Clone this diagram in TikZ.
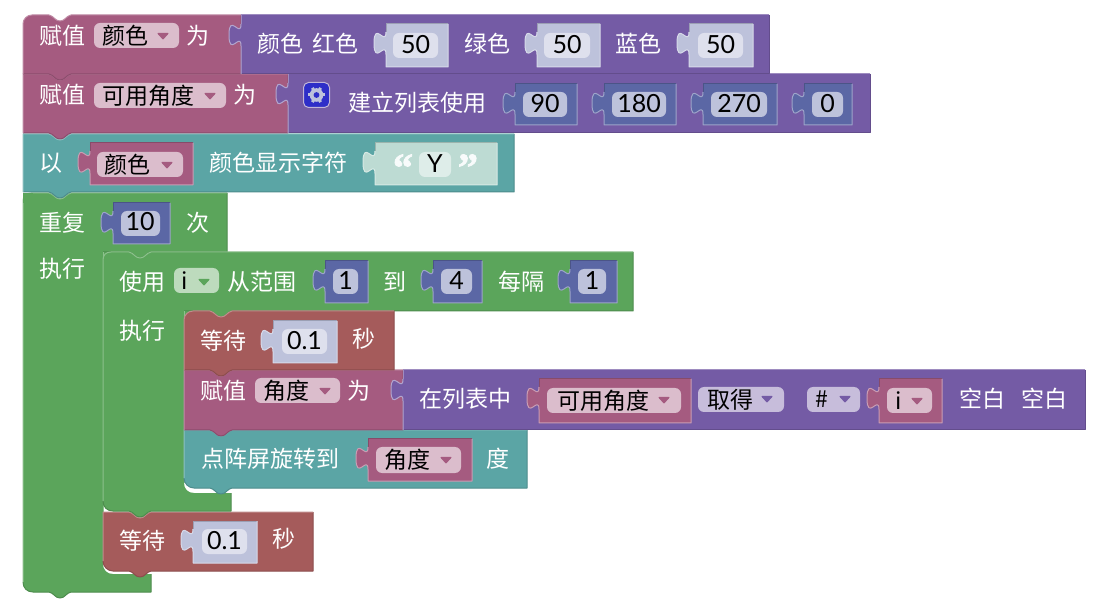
\documentclass[tikz,border=0pt]{standalone}
\usepackage{fontspec}
\setmainfont{Liberation Sans}
\newfontfamily\cjk{Noto Sans CJK SC}
\newfontfamily\numf{Lato}
\newfontfamily\qfont{Liberation Serif Bold}[FakeBold=2]
\definecolor{cMaroon}{HTML}{A55B80}
\definecolor{cPurple}{HTML}{745BA5}
\definecolor{cTeal}{HTML}{5BA5A5}
\definecolor{cGreen}{HTML}{5BA55B}
\definecolor{cRed}{HTML}{A55B5B}
\definecolor{cBlue}{HTML}{5B67A5}
\definecolor{cGear}{HTML}{2E2EC8}
\definecolor{fMaroon}{HTML}{DBBDCC}
\definecolor{fPurple}{HTML}{C7BDDB}
\definecolor{fGreen}{HTML}{BDDBBD}
\definecolor{fBlue}{HTML}{BDC2DB}
\definecolor{sBlue}{HTML}{BDC2DB}
\definecolor{sBlueF}{HTML}{DEE0ED}
\definecolor{sTeal}{HTML}{BDDBD3}
\definecolor{sTealF}{HTML}{DEEDE9}
\newcount\txc
\tikzset{
  lbl/.style={anchor=base,inner sep=0pt,outer sep=0pt,font=\fontsize{23}{23}\selectfont\cjk,text=white},
  fldtxt/.style={lbl,text=black},
  numtxt/.style={anchor=base,inner sep=0pt,outer sep=0pt,font=\fontsize{25}{25}\selectfont\numf,text=black},
  quotetxt/.style={anchor=base,inner sep=0pt,outer sep=0pt,text=white!90!sTeal,font=\fontsize{40}{40}\selectfont\qfont},
  edgeline/.style={line width=1pt,line join=round}
}
% text helpers: x, y-centre, text
\newcommand\wtx[3]{\global\advance\txc by 1 \node[lbl] (t\the\txc) at (#1,#2+9.5) {#3};}
\newcommand\btx[3]{\global\advance\txc by 1 \node[fldtxt] (t\the\txc) at (#1,#2+9.5) {#3};}
\newcommand\ntx[3]{\global\advance\txc by 1 \node[numtxt] (t\the\txc) at (#1,#2+8) {#3};}
% field: x1 y1 x2 y2 colour
\newcommand\fld[5]{\fill[#5,rounded corners=6pt] (#1,#2) rectangle (#3,#4);}
% dropdown arrow: x y colour
\newcommand\drp[3]{\fill[#3,line join=round,draw=#3,line width=1pt] (#1-5,#2-2.5) -- (#1+5,#2-2.5) -- (#1,#2+3) -- cycle;}
% statement block: x1 y1 x2 y2 colour topleft-radius bottomleft-radius
\newcommand\stmt[7]{%
 \fill[#5] (#1,#2+#6) .. controls (#1,#2+#6*.45) and (#1+#6*.45,#2) .. (#1+#6,#2)
   -- (#1+26,#2) .. controls (#1+31,#2+1) and (#1+32,#2+6) .. (#1+37,#2+6) .. controls (#1+42,#2+6) and (#1+43,#2+1) .. (#1+48,#2)
   -- (#3,#2) -- (#3,#4) -- (#1+48,#4) .. controls (#1+43,#4+1) and (#1+42,#4+6) .. (#1+37,#4+6) .. controls (#1+32,#4+6) and (#1+31,#4+1) .. (#1+26,#4)
   -- (#1+#7,#4) .. controls (#1+#7*.45,#4) and (#1,#4-#7*.45) .. (#1,#4-#7) -- cycle;
 \draw[edgeline,#5!85!black] (#3,#2) -- (#3,#4) -- (#1+48,#4) .. controls (#1+43,#4+1) and (#1+42,#4+6) .. (#1+37,#4+6) .. controls (#1+32,#4+6) and (#1+31,#4+1) .. (#1+26,#4)
   -- (#1+#7,#4) .. controls (#1+#7*.45,#4) and (#1,#4-#7*.45) .. (#1,#4-#7);
 \draw[edgeline,#5!70!white] (#1,#4-#7) -- (#1,#2+#6) .. controls (#1,#2+#6*.45) and (#1+#6*.45,#2) .. (#1+#6,#2)
   -- (#1+26,#2) .. controls (#1+31,#2+1) and (#1+32,#2+6) .. (#1+37,#2+6) .. controls (#1+42,#2+6) and (#1+43,#2+1) .. (#1+48,#2) -- (#3,#2);
}
% C block: x1 y1 xR yh armx barTop xbar barBot
\newcommand\cblk[9]{%
 \fill[#9] (#1,#2+8) .. controls (#1,#2+3) and (#1+3,#2) .. (#1+8,#2)
   -- (#1+26,#2) .. controls (#1+31,#2+1) and (#1+32,#2+6) .. (#1+37,#2+6) .. controls (#1+42,#2+6) and (#1+43,#2+1) .. (#1+48,#2)
   -- (#3,#2) -- (#3,#4) -- (#5+48,#4) .. controls (#5+43,#4+1) and (#5+42,#4+6) .. (#5+37,#4+6) .. controls (#5+32,#4+6) and (#5+31,#4+1) .. (#5+26,#4)
   -- (#5+12,#4) -- (#5+12,#4+1) -- (#5+1,#4+12) -- (#5,#4+12) -- (#5,#6-10) .. controls (#5,#6-4) and (#5+4,#6) .. (#5+10,#6)
   -- (#7,#6) -- (#7,#8) -- (#1+48,#8) .. controls (#1+43,#8+1) and (#1+42,#8+6) .. (#1+37,#8+6) .. controls (#1+32,#8+6) and (#1+31,#8+1) .. (#1+26,#8)
   -- (#1+10,#8) .. controls (#1+4,#8) and (#1,#8-4) .. (#1,#8-10) -- cycle;
 \draw[edgeline,#9!85!black] (#3,#2) -- (#3,#4) -- (#5+48,#4) .. controls (#5+43,#4+1) and (#5+42,#4+6) .. (#5+37,#4+6) .. controls (#5+32,#4+6) and (#5+31,#4+1) .. (#5+26,#4) -- (#5,#4);
 \draw[edgeline,#9!85!black] (#7,#6) -- (#7,#8) -- (#1+48,#8) .. controls (#1+43,#8+1) and (#1+42,#8+6) .. (#1+37,#8+6) .. controls (#1+32,#8+6) and (#1+31,#8+1) .. (#1+26,#8)
   -- (#1+10,#8) .. controls (#1+4,#8) and (#1,#8-4) .. (#1,#8-10);
 \draw[edgeline,#9!70!white] (#1,#8-10) -- (#1,#2+8) .. controls (#1,#2+3) and (#1+3,#2) .. (#1+8,#2)
   -- (#1+26,#2) .. controls (#1+31,#2+1) and (#1+32,#2+6) .. (#1+37,#2+6) .. controls (#1+42,#2+6) and (#1+43,#2+1) .. (#1+48,#2) -- (#3,#2);
 \draw[edgeline,#9!70!white] (#5,#4) -- (#5,#6-10);
}
% value block with puzzle tab: x1 y1 x2 y2 colour
\newcommand\valb[5]{%
 \fill[#5] (#1,#2) -- (#3,#2) -- (#3,#4) -- (#1,#4) -- (#1,#2+30.5)
   .. controls (#1,#2+15.5) and (#1-12,#2+42.5) .. (#1-12,#2+19.25)
   .. controls (#1-12,#2-4) and (#1,#2+23) .. (#1,#2+8) -- cycle;
 \draw[edgeline,#5!82!black] (#1,#2+8) -- (#1,#2) -- (#3,#2);
 \draw[edgeline,#5!60!white] (#3,#2) -- (#3,#4) -- (#1,#4) -- (#1,#2+30.5)
   .. controls (#1,#2+15.5) and (#1-12,#2+42.5) .. (#1-12,#2+19.25)
   .. controls (#1-12,#2-4) and (#1,#2+23) .. (#1,#2+8);
}
% attached output block: x1 y1 x2 y2 colour
\newcommand\outb[5]{%
 \fill[#5] (#1,#2) -- (#3,#2) -- (#3,#4) -- (#1,#4) -- (#1,#2+31)
   .. controls (#1,#2+16) and (#1-12,#2+43) .. (#1-12,#2+20)
   .. controls (#1-12,#2-3) and (#1,#2+24) .. (#1,#2+9) -- cycle;
 \draw[edgeline,#5!85!black] (#3,#2) -- (#3,#4) -- (#1,#4);
 \draw[edgeline,#5!70!white] (#1,#2+9) -- (#1,#2) -- (#3,#2);
 \draw[edgeline,#5!55!white] (#1,#4) -- (#1,#2+31)
   .. controls (#1,#2+16) and (#1-12,#2+43) .. (#1-12,#2+20)
   .. controls (#1-12,#2-3) and (#1,#2+24) .. (#1,#2+9);
}
\begin{document}
\begin{tikzpicture}[x=1pt,y=-1pt]
\useasboundingbox (0,0) rectangle (1096,612);
\fill[white] (0,0) rectangle (1096,612);

% ===== outer repeat =====
\cblk{23}{193}{227}{252}{103}{574}{151}{592}{cGreen}
\fill[cGreen] (23,193) rectangle (33,203);
\wtx{62}{222}{重复}
\valb{113}{203}{170}{244}{cBlue}
\fld{121}{211}{160}{236}{fBlue}
\ntx{140}{223}{10}
\wtx{198}{222}{次}
\wtx{62}{268}{执行}

% lower wait
\stmt{103}{512}{313}{571}{cRed}{0}{10}
\wtx{142}{540}{等待}
\valb{193}{521}{257}{563}{sBlue}
\fld{202}{529}{247}{554}{sBlueF}
\ntx{224.5}{541.5}{0.1}
\wtx{284}{538}{秒}

% ===== inner for =====
\cblk{103}{252}{633}{311}{184}{493}{231}{511}{cGreen}
\wtx{142}{281}{使用}
\fld{174}{268}{219}{293}{fGreen}
\btx{185}{280}{i}
\drp{204}{282}{cGreen}
\wtx{262}{281}{从范围}
\valb{325}{261}{368}{303}{cBlue}
\fld{333}{269}{358}{294}{fBlue}
\ntx{345.5}{281.5}{1}
\wtx{395}{281}{到}
\valb{433}{261}{482}{303}{cBlue}
\fld{441}{269}{472}{294}{fBlue}
\ntx{456.5}{281.5}{4}
\wtx{521}{281}{每隔}
\valb{570}{261}{617}{303}{cBlue}
\fld{578}{269}{606}{294}{fBlue}
\ntx{592}{281.5}{1}
\wtx{142}{330}{执行}

% teal rotate
\stmt{184}{430}{527}{488}{cTeal}{0}{10}
\wtx{270}{458}{点阵屏旋转到}
\valb{368}{439}{472}{481}{cMaroon}
\fld{376}{447}{461}{473}{fMaroon}
\btx{407}{459}{角度}
\drp{446}{460}{cMaroon}
\wtx{498}{458}{度}

% assign angle
\stmt{184}{370}{403}{430}{cMaroon}{0}{0}
\wtx{223}{390}{赋值}
\fld{255}{378}{340}{403}{fMaroon}
\btx{286}{390}{角度}
\drp{325}{391}{cMaroon}
\wtx{359}{390}{为}
\outb{403}{370}{1085}{430}{cPurple}
\wtx{465}{398}{在列表中}
\valb{539}{379}{691}{423}{cMaroon}
\fld{547}{388}{681}{413}{fMaroon}
\btx{603}{400}{可用角度}
\drp{664}{400}{cMaroon}
\fld{698}{387}{784}{412}{fPurple}
\btx{730}{399}{取得}
\drp{767}{399}{cPurple}
\fld{807}{387}{860}{412}{fPurple}
\btx{822}{398}{\#}
\drp{845}{399}{cPurple}
\valb{879}{379}{942}{423}{cMaroon}
\fld{887}{388}{932}{413}{fMaroon}
\btx{899}{400}{i}
\drp{917}{401}{cMaroon}
\wtx{982}{398}{空白}
\wtx{1044}{398}{空白}

% inner wait
\stmt{184}{311}{394}{370}{cRed}{9}{0}
\wtx{223}{340}{等待}
\valb{273}{321}{337}{363}{sBlue}
\fld{282}{329}{327}{354}{sBlueF}
\ntx{304.5}{341.5}{0.1}
\wtx{364}{338}{秒}

% ===== row 3 =====
\stmt{23}{134}{514}{192}{cTeal}{0}{0}
\wtx{51}{162}{以}
\valb{90}{143}{193}{185}{cMaroon}
\fld{97}{152}{183}{177}{fMaroon}
\btx{127}{164}{颜色}
\drp{167}{165}{cMaroon}
\wtx{278}{162}{颜色显示字符}
\valb{375}{143}{497}{185}{sTeal}
\fld{419}{152}{451}{177}{sTealF}
\ntx{435}{164.5}{Y}
\global\advance\txc by 1
\node[quotetxt] (t\the\txc) at (403,181) {“};
\global\advance\txc by 1
\node[quotetxt] (t\the\txc) at (468,181) {”};

% ===== row 2 =====
\stmt{23}{74}{288}{133}{cMaroon}{0}{0}
\wtx{62}{94}{赋值}
\fld{94}{83}{226}{108}{fMaroon}
\btx{148}{95}{可用角度}
\drp{210}{96}{cMaroon}
\wtx{245}{94}{为}
\outb{288}{74}{870}{133}{cPurple}
% gear icon
\fill[cGear,draw=cPurple!45!white,line width=1pt,rounded corners=5pt] (303.5,82.5) rectangle (329.5,107.5);
\foreach \a in {0,60,...,300} {\draw[line width=3pt,color=fBlue] (316.5,95) -- ++(\a:8.2);}
\fill[fBlue] (316.5,95) circle (6.8pt);
\fill[cGear] (316.5,95) circle (2.9pt);
\wtx{417}{102}{建立列表使用}
\valb{515}{84}{577}{125}{cBlue}
\fld{523}{92}{567}{117}{fBlue}
\ntx{545}{104.5}{90}
\valb{604}{84}{676}{125}{cBlue}
\fld{612}{92}{666}{117}{fBlue}
\ntx{639}{104.5}{180}
\valb{703}{84}{777}{125}{cBlue}
\fld{711}{92}{767}{117}{fBlue}
\ntx{739}{104.5}{270}
\valb{804}{84}{852}{125}{cBlue}
\fld{812}{92}{843}{117}{fBlue}
\ntx{827.5}{104.5}{0}

% ===== row 1 =====
\stmt{23}{15}{241}{74}{cMaroon}{9}{0}
\wtx{62}{35}{赋值}
\fld{94}{23}{179}{48}{fMaroon}
\btx{125}{35}{颜色}
\drp{163}{36}{cMaroon}
\wtx{198}{35}{为}
\outb{241}{15}{769}{74}{cPurple}
\wtx{280}{43}{颜色}
\wtx{335}{43}{红色}
\valb{386}{24}{448}{67}{sBlue}
\fld{393}{33}{438}{58}{sBlueF}
\ntx{415.5}{45.5}{50}
\wtx{487}{43}{绿色}
\valb{537}{24}{600}{67}{sBlue}
\fld{544}{33}{590}{58}{sBlueF}
\ntx{567}{45.5}{50}
\wtx{638}{43}{蓝色}
\valb{689}{24}{753}{67}{sBlue}
\fld{698}{33}{743}{58}{sBlueF}
\ntx{720.5}{45.5}{50}
\end{tikzpicture}
\end{document}
